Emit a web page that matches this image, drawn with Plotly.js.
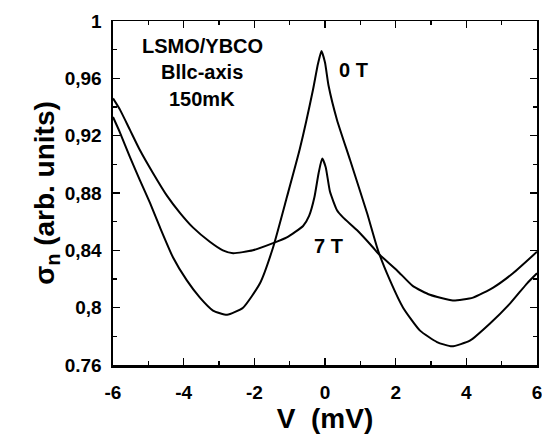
<!DOCTYPE html>
<html><head><meta charset="utf-8">
<script src="https://cdn.plot.ly/plotly-3.0.1.min.js"></script>
<style>html,body{margin:0;padding:0;background:#fff;}#chart{width:542px;height:435px;}</style>
</head><body><div id="chart"></div>
<script>
// Data
const v0T = [-6.0,-5.8,-5.52,-5.24,-4.95,-4.67,-4.3,-3.91,-3.54,-3.17,-2.77,-2.32,-1.84,-1.47,-1.08,-0.71,-0.34,-0.2,-0.1,0.0,0.1,0.34,0.71,1.19,1.5,1.84,2.21,2.69,3.17,3.59,4.1,4.67,5.24,5.72,6.0];
const s0T = [0.933,0.922,0.905,0.889,0.873,0.856,0.835,0.819,0.807,0.798,0.795,0.8,0.817,0.842,0.877,0.911,0.952,0.970,0.979,0.971,0.955,0.931,0.903,0.866,0.840,0.819,0.8,0.784,0.776,0.773,0.777,0.789,0.803,0.817,0.824];
const v7T = [-6.0,-5.8,-5.52,-5.24,-4.87,-4.47,-4.1,-3.74,-3.26,-2.89,-2.6,-2.04,-1.47,-1.08,-0.62,-0.45,-0.3,-0.18,-0.08,0.02,0.14,0.34,0.51,0.91,1.36,1.5,2.04,2.49,2.97,3.62,4.19,4.76,5.32,6.0];
const s7T = [0.946,0.938,0.924,0.91,0.894,0.878,0.866,0.856,0.846,0.84,0.838,0.84,0.845,0.849,0.857,0.864,0.877,0.894,0.904,0.898,0.881,0.868,0.863,0.854,0.842,0.838,0.826,0.815,0.809,0.805,0.807,0.814,0.824,0.839];
const yTickVals = [0.76,0.8,0.84,0.88,0.92,0.96,1];
const yTickText = ["0.76","0,8","0,84","0,88","0,92","0,96","1"];
const yMinorVals = [0.78,0.82,0.86,0.9,0.94,0.98];
const xTickVals = [-6,-4,-2,0,2,4,6];
const xTickText = ["-6","-4","-2","0","2","4","6"];
const xMinorVals = [-5,-3,-1,1,3,5];

const F = "Liberation Sans, Arial, sans-serif";
const line = {color:'#000', width:2, shape:'spline', smoothing:0.5};
const traces = [
  {x:v0T, y:s0T, mode:'lines', line:line, name:'0 T', hoverinfo:'none'},
  {x:v7T, y:s7T, mode:'lines', line:line, name:'7 T', hoverinfo:'none'},
  {x:[xTickVals[0]], y:[yTickVals[0]], xaxis:'x2', yaxis:'y2', mode:'markers', marker:{opacity:0}, hoverinfo:'none', showlegend:false}
];
const tickCommon = {ticks:'inside', ticklen:7, tickwidth:1.5, tickcolor:'#000', showgrid:false, zeroline:false, showline:true, linecolor:'#000', automargin:false};
const layout = {
  width:542, height:435,
  margin:{l:113, r:5, t:21, b:70},
  paper_bgcolor:'#fff', plot_bgcolor:'#fff',
  showlegend:false,
  font:{family:F, color:'#000'},
  xaxis:Object.assign({}, tickCommon, {range:[-6,6], tickmode:'array', tickvals:xTickVals, ticktext:xTickText,
    minor:{tickmode:'array', tickvals:xMinorVals, ticks:'inside', ticklen:4, tickcolor:'#000', showgrid:false},
    linewidth:2.5, ticklabelstandoff:9, ticklabeloverflow:'allow',
    tickfont:{family:F, size:19, weight:700},
    title:{text:'V  (mV)', font:{family:F, size:28, weight:700}, standoff:3}}),
  yaxis:Object.assign({}, tickCommon, {range:[0.76,1], tickmode:'array', tickvals:yTickVals, ticktext:yTickText,
    minor:{tickmode:'array', tickvals:yMinorVals, ticks:'inside', ticklen:4, tickcolor:'#000', showgrid:false},
    linewidth:2.5, ticklabelstandoff:5, ticklabeloverflow:'allow',
    tickfont:{family:F, size:19, weight:700},
    title:{text:'σ<sub>n</sub> (arb. units)', font:{family:F, size:28, weight:700}, standoff:2}}),
  xaxis2:Object.assign({}, tickCommon, {range:[-6,6], overlaying:'x', side:'top', tickmode:'array', tickvals:xTickVals, showticklabels:false,
    minor:{tickmode:'array', tickvals:xMinorVals, ticks:'inside', ticklen:4, tickcolor:'#000', showgrid:false}, linewidth:1.2}),
  yaxis2:Object.assign({}, tickCommon, {range:[0.76,1], overlaying:'y', side:'right', tickmode:'array', tickvals:yTickVals, showticklabels:false,
    minor:{tickmode:'array', tickvals:yMinorVals, ticks:'inside', ticklen:4, tickcolor:'#000', showgrid:false}, linewidth:1.8}),
  annotations:[
    {text:'LSMO/YBCO', x:202, y:46, showarrow:false, font:{family:F,size:20,weight:700}},
    {text:'Bllc-axis', x:202, y:72, showarrow:false, font:{family:F,size:20,weight:700}},
    {text:'150mK', x:202, y:99, showarrow:false, font:{family:F,size:20,weight:700}},
    {text:'0 T', x:353, y:70, showarrow:false, font:{family:F,size:20,weight:700}},
    {text:'7 T', x:328, y:246, showarrow:false, font:{family:F,size:20,weight:700}}
  ]
};
// annotation anchors given in pixels, converted to data coordinates through the axis ranges
function px2x(px){ return -6 + (px-113)/(537-113)*12; }
function px2y(py){ return 1 - (py-21)/(365-21)*0.24; }
layout.annotations.forEach(a=>{ a.xref='x'; a.yref='y'; a.x=px2x(a.x); a.y=px2y(a.y); });
Plotly.newPlot('chart', traces, layout, {displayModeBar:false, staticPlot:true});
</script></body></html>
